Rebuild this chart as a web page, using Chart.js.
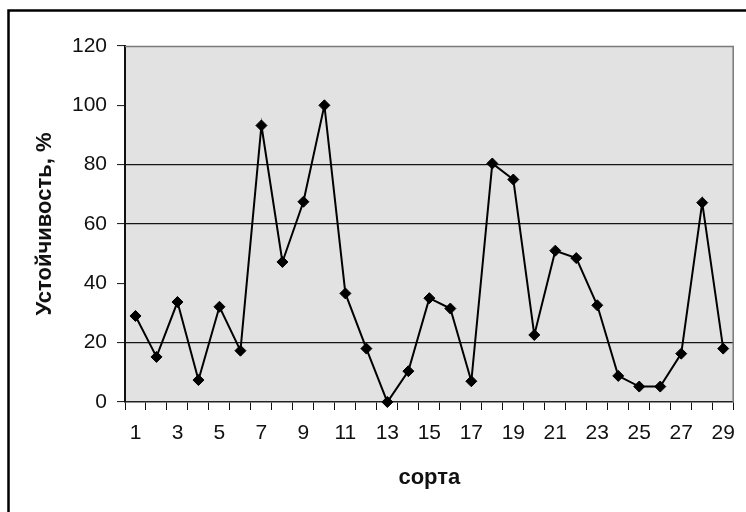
<!DOCTYPE html>
<html>
<head>
<meta charset="utf-8">
<script src="https://cdn.jsdelivr.net/npm/chart.js@4/dist/chart.umd.min.js"></script>
<style>
  html, body { margin: 0; padding: 0; background: #fff; }
  #wrap { width: 746px; height: 512px; position: relative; }
</style>
</head>
<body>
<div id="wrap"><canvas id="c" width="746" height="512"></canvas></div>
<script>
// Сорта (номера) и устойчивость, %
const varieties = ['1','2','3','4','5','6','7','8','9','10','11','12','13','14','15',
                   '16','17','18','19','20','21','22','23','24','25','26','27','28','29'];
const stability = [29, 15.2, 33.7, 7.4, 32.1, 17.3, 93.2, 47.2, 67.5, 100,
                   36.6, 18, 0, 10.4, 35, 31.5, 7, 80.4, 75, 22.6,
                   51, 48.5, 32.6, 8.8, 5.2, 5.2, 16.3, 67.2, 18];
const yTickValues = [0, 20, 40, 60, 80, 100, 120];
const gridLevels = [20, 60, 80];

const FONT = "'Liberation Sans', Arial, sans-serif";

// plot background, plot border and outer frame
const decor = {
  id: 'decor',
  beforeDraw(chart) {
    const { ctx, chartArea: a } = chart;
    ctx.save();
    ctx.fillStyle = '#fff';
    ctx.fillRect(0, 0, chart.width, chart.height);
    ctx.fillStyle = '#e2e2e2';
    ctx.fillRect(a.left, a.top, a.right - a.left, a.bottom - a.top);
    ctx.lineWidth = 2.5;
    ctx.strokeStyle = '#000';
    ctx.strokeRect(8.5, 10.5, 800, 600);
    ctx.restore();
  },
  beforeDatasetsDraw(chart) {
    const { ctx, chartArea: a } = chart;
    ctx.save();
    ctx.strokeStyle = '#7a7a7a';
    ctx.lineWidth = 1.5;
    ctx.beginPath();
    ctx.moveTo(a.left, a.top + 0.5);
    ctx.lineTo(a.right - 0.5, a.top + 0.5);
    ctx.lineTo(a.right - 0.5, a.bottom);
    ctx.stroke();
    ctx.restore();
  }
};

new Chart(document.getElementById('c'), {
  type: 'line',
  data: {
    labels: varieties,
    datasets: [{
      data: stability,
      borderColor: '#000',
      borderWidth: 2,
      pointStyle: 'rectRot',
      pointRadius: 5.5,
      pointBackgroundColor: '#000',
      pointBorderColor: '#000',
      pointBorderWidth: 1,
      tension: 0,
      clip: false
    }]
  },
  options: {
    responsive: false,
    devicePixelRatio: 1,
    animation: false,
    layout: { padding: { top: 46, right: 6, left: 0, bottom: 0 } },
    plugins: { legend: { display: false }, tooltip: { enabled: false } },
    scales: {
      x: {
        type: 'category',
        offset: true,
        afterFit(scale) { scale.height = 110; },
        grid: {
          offset: true,
          drawOnChartArea: false,
          drawTicks: true,
          tickLength: 8,
          tickColor: '#111',
          tickWidth: 1
        },
        border: { color: '#222', width: 1.5 },
        ticks: {
          autoSkip: false,
          maxRotation: 0,
          minRotation: 0,
          padding: 11,
          color: '#111',
          font: { family: FONT, size: 21 },
          callback: (v, i) => (i % 2 === 0 ? varieties[i] : '')
        },
        title: {
          display: true,
          text: 'сорта',
          color: '#111',
          font: { family: FONT, size: 22, weight: 'bold' },
          padding: { top: 0, bottom: 21 }
        }
      },
      y: {
        min: 0,
        max: 120,
        afterFit(scale) { scale.width = 125; },
        afterBuildTicks(scale) { scale.ticks = yTickValues.map(v => ({ value: v })); },
        grid: {
          color: ctx => (ctx.tick && gridLevels.includes(ctx.tick.value) ? '#151515' : 'rgba(0,0,0,0)'),
          lineWidth: 1.2,
          drawTicks: true,
          tickLength: 8,
          tickColor: '#111',
          tickWidth: 1
        },
        border: { color: '#111', width: 2 },
        ticks: {
          padding: 10,
          color: '#111',
          font: { family: FONT, size: 21 }
        },
        title: {
          display: true,
          text: 'Устойчивость, %',
          color: '#111',
          font: { family: FONT, size: 22, weight: 'bold' },
          padding: { top: 32, bottom: 0 }
        }
      }
    }
  },
  plugins: [decor]
});
</script>
</body>
</html>
